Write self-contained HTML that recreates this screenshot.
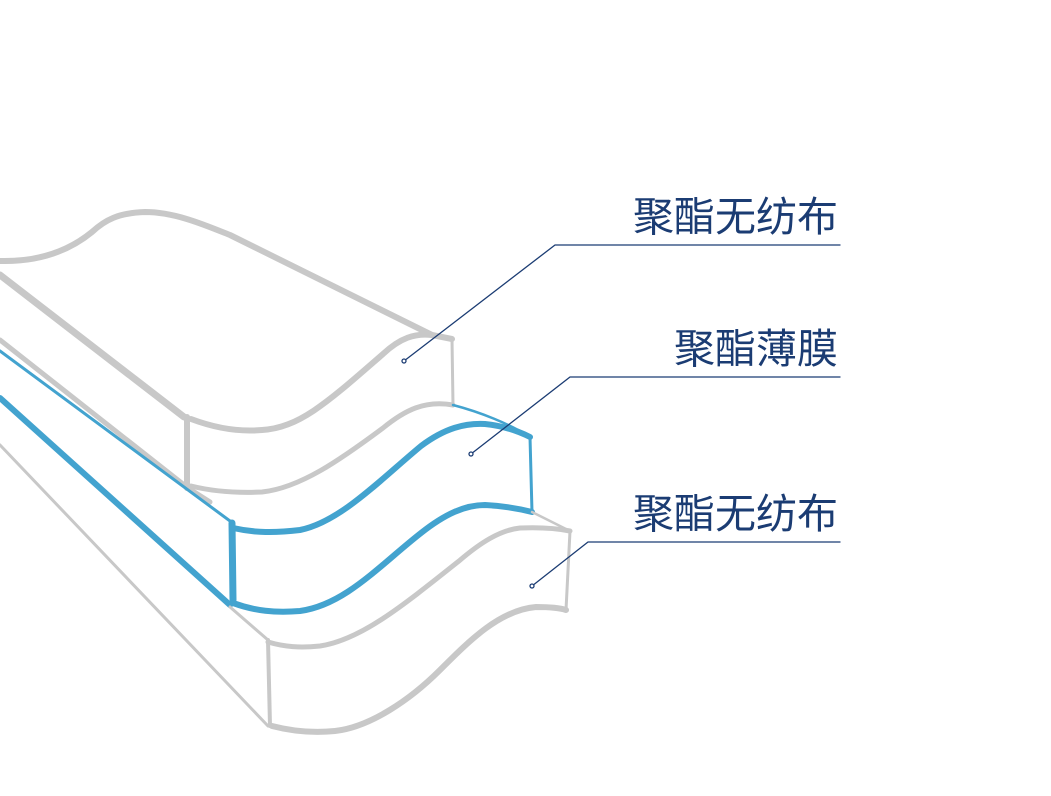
<!DOCTYPE html>
<html><head><meta charset="utf-8"><style>
html,body{margin:0;padding:0;background:#fff;}
svg{display:block}
text{font-family:"Liberation Sans","Noto Sans CJK SC",sans-serif;fill:#1b3c73;font-size:41px;}
</style></head><body>
<svg width="1051" height="796" viewBox="0 0 1051 796" xmlns="http://www.w3.org/2000/svg">
<g fill="none" stroke-linecap="round" stroke-linejoin="round">
<!-- top layer -->
<path d="M0,261 C40,262 70,250 92,232 C105,220 118,213 145,212 C175,212 205,225 230,235 L432,335 L452,339" stroke="#c8c8c8" stroke-width="6"/>
<path d="M452,339 L453,405" stroke="#c8c8c8" stroke-width="3"/>
<path d="M191,419 C215,428 240,432 262,430 C300,428 330,400 383,354 C400,338 415,333 432,335" stroke="#c8c8c8" stroke-width="6"/>
<path d="M191,486 C215,492 240,493 262,492 C300,488 340,460 383,428 C405,410 425,400 453,405" stroke="#c8c8c8" stroke-width="5"/>
<path d="M187,417 L187,488" stroke="#c8c8c8" stroke-width="6"/>
<path d="M0,275 L184,417" stroke="#c8c8c8" stroke-width="7"/>
<path d="M0,340 L188,488 L210,502" stroke="#c8c8c8" stroke-width="5"/>
<!-- blue layer -->
<path d="M0,351 L230,521" stroke="#43a3cf" stroke-width="3"/>
<path d="M453,405 C480,412 510,424 530,437" stroke="#43a3cf" stroke-width="2.5"/>
<path d="M233,528 C255,533 275,533 300,530 C340,522 380,480 421,446 C445,428 465,423 485,424 C505,426 520,432 530,437" stroke="#43a3cf" stroke-width="6"/>
<path d="M530,437 L532,512" stroke="#43a3cf" stroke-width="3"/>
<path d="M232,523 L233,600" stroke="#43a3cf" stroke-width="7"/>
<path d="M233,603 C255,611 275,613 300,611 C345,605 380,565 421,533 C445,514 465,505 485,505 C505,506 520,509 532,512" stroke="#43a3cf" stroke-width="6"/>
<path d="M0,398 L230,605" stroke="#43a3cf" stroke-width="6"/>
<path d="M532,512 L570,531" stroke="#c8c8c8" stroke-width="2.5"/>
<!-- bottom layer -->
<path d="M268,642 C285,647 300,648 320,646 C360,640 400,608 459,561 C480,543 500,530 520,528 C545,527 560,529 570,531" stroke="#c8c8c8" stroke-width="5"/>
<path d="M570,531 L566,610" stroke="#c8c8c8" stroke-width="3"/>
<path d="M272,726 C295,732 315,733 335,731 C370,727 410,700 440,670 C470,640 500,610 536,607 C550,607 560,608 566,610" stroke="#c8c8c8" stroke-width="6"/>
<path d="M268,640 L270,726" stroke="#c8c8c8" stroke-width="4"/>
<path d="M0,445 L268,726" stroke="#c8c8c8" stroke-width="3"/>
<path d="M230,607 L268,640" stroke="#c8c8c8" stroke-width="3"/>
<!-- leaders -->
<g stroke="#1b3c73" stroke-width="1.3">
<path d="M404,361 L555,245 L840,245"/>
<path d="M471,454 L570,377 L840,377"/>
<path d="M532,586 L588,542 L840,542"/>
</g>
<g stroke="#1b3c73" stroke-width="1.3" fill="#fff">
<circle cx="404" cy="361" r="2"/>
<circle cx="471" cy="454" r="2"/>
<circle cx="532" cy="586" r="2"/>
</g>
</g>
<text x="838" y="231" text-anchor="end">聚酯无纺布</text>
<text x="838" y="363" text-anchor="end">聚酯薄膜</text>
<text x="838" y="528" text-anchor="end">聚酯无纺布</text>
</svg>
</body></html>
